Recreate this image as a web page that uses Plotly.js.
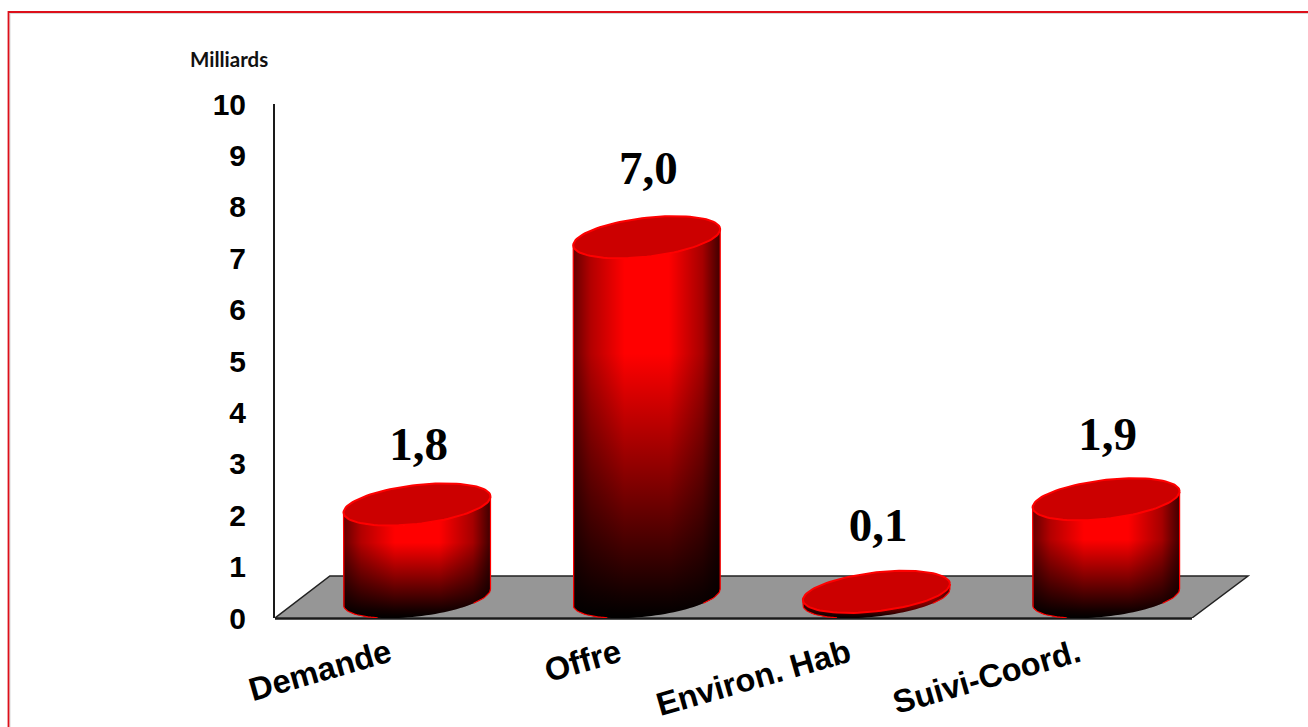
<!DOCTYPE html>
<html><head><meta charset="utf-8">
<script src="https://cdn.plot.ly/plotly-3.0.1.min.js"></script>
<style>html,body{margin:0;padding:0;background:#fff;overflow:hidden}</style>
</head><body><div id="chart" style="width:1308px;height:727px"></div>
<script>
const categories = ["Demande", "Offre", "Environ. Hab", "Suivi-Coord."];
const values = [1.8, 7.0, 0.1, 1.9];
const yTicks = [0,1,2,3,4,5,6,7,8,9,10];
const unitLabel = "Milliards";

const W = 1308, H = 727;
const M = {l:275, r:8, t:104, b:109};
const plotW = W - M.l - M.r, plotH = H - M.t - M.b;
const pxX = 229.7, pxY = plotH / 10;
const xMin = (275 - 417) / pxX, xMax = xMin + plotW / pxX;
const depth = 42 / pxY, baseY = 21 / pxY;
const A = 73.5 / pxX, S = 8 / pxY, B = 19.5 / pxY;
const labelLift = [56, 65, 63, 61];

function pt(i, v, t) {
  return [i + A * Math.cos(t), baseY + v + S * Math.cos(t) + B * Math.sin(t)];
}
function arc(i, v, t0, t1, n) {
  const xs = [], ys = [];
  for (let k = 0; k <= n; k++) {
    const p = pt(i, v, t0 + (t1 - t0) * k / n);
    xs.push(p[0]); ys.push(p[1]);
  }
  return [xs, ys];
}
const traces = [];
const noHover = {hoverinfo:'skip', showlegend:false, type:'scatter'};
values.forEach((v, i) => {
  const topFront = arc(i, v, 0, -Math.PI, 50);
  const baseFront = arc(i, 0, -Math.PI, 0, 50);
  const bx = topFront[0].concat(baseFront[0]), by = topFront[1].concat(baseFront[1]);
  const hot = v > 4 ? 0.68 : 0.62;
  traces.push(Object.assign({}, noHover, {x:bx, y:by, mode:'none', fill:'toself',
    fillgradient:{type:'vertical', colorscale:[[0,'#000000'],[0.06,'#140000'],[hot,'#ff0000'],[1,'#ff0000']]}}));
  traces.push(Object.assign({}, noHover, {x:bx, y:by, mode:'none', fill:'toself',
    fillgradient:{type:'horizontal', colorscale:[[0,'rgba(0,0,0,0.6)'],[0.12,'rgba(0,0,0,0.3)'],[0.35,'rgba(0,0,0,0)'],[0.65,'rgba(0,0,0,0)'],[0.88,'rgba(0,0,0,0.35)'],[1,'rgba(0,0,0,0.75)']]}}));
  const left = arc(i, 0, -Math.PI, -Math.PI*0.68, 18);
  const right = arc(i, 0, -Math.PI*0.22, 0, 14);
  const leftTop = pt(i, v, Math.PI), rightTop = pt(i, v, 0);
  traces.push(Object.assign({}, noHover, {mode:'lines', line:{color:'#ff0000', width:1.2},
    x:[leftTop[0]].concat(left[0]), y:[leftTop[1]].concat(left[1])}));
  traces.push(Object.assign({}, noHover, {mode:'lines', line:{color:'#ff0000', width:1.2},
    x:right[0].concat([rightTop[0]]), y:right[1].concat([rightTop[1]])}));
  const top = arc(i, v, 0, 2*Math.PI, 100);
  traces.push(Object.assign({}, noHover, {x:top[0], y:top[1], mode:'lines', fill:'toself',
    fillcolor:'#cc0000', line:{color:'#ff0000', width:2}}));
});
traces.push({type:'scatter', mode:'text', showlegend:false, hoverinfo:'skip', cliponaxis:false,
  x:categories.map((c,i)=>i+0.007),
  y:values.map((v,i)=>v+baseY+labelLift[i]/pxY),
  text:values.map(v=>v.toFixed(1).replace('.',',')),
  textposition:'middle center',
  textfont:{family:'"Liberation Serif", serif', size:47, color:'#000', weight:'bold'}});

const toPaperX = px => (px - M.l) / plotW;
const toPaperY = py => 1 - (py - M.t) / plotH;
const floorX0 = xMin, floorX1 = (1192 - 417) / pxX, floorShift = 56 / pxX;
const layout = {
  width:W, height:H, margin:M, paper_bgcolor:'#fff', plot_bgcolor:'rgba(0,0,0,0)', showlegend:false,
  xaxis:{range:[xMin,xMax], tickmode:'array', tickvals:categories.map((c,i)=>i), ticktext:categories,
    tickangle:-16, ticklabelshift:-28, ticklabelstandoff:10, showline:false, zeroline:false, showgrid:false, ticks:'',
    tickfont:{family:'"Liberation Sans", Arial, sans-serif', size:32.5, color:'#000', weight:'bold'}, fixedrange:true},
  yaxis:{range:[0,10], tickmode:'array', tickvals:yTicks, showline:true, linecolor:'#1a1a1a', linewidth:2,
    zeroline:false, showgrid:false, ticks:'', ticklabelstandoff:21,
    tickfont:{family:'"Liberation Sans", Arial, sans-serif', size:30, color:'#000', weight:'bold'}, fixedrange:true},
  shapes:[
    {type:'path', layer:'below', xref:'x', yref:'y',
     path:`M ${floorX0} 0 L ${floorX0+floorShift*0.98} ${depth} L ${floorX1+floorShift} ${depth} L ${floorX1} 0 Z`,
     fillcolor:'#969696', line:{color:'#222', width:1.5}},
    {type:'line', layer:'below', xref:'paper', yref:'paper', x0:toPaperX(275), x1:toPaperX(1192), y0:toPaperY(618.5), y1:toPaperY(618.5), line:{color:'#1a1a1a', width:2.5}},
    {type:'path', xref:'paper', yref:'paper', layer:'above',
     path:`M ${toPaperX(10)} ${toPaperY(727)} L ${toPaperX(10)} ${toPaperY(13.5)} L ${toPaperX(1308)} ${toPaperY(13.5)}`,
     line:{color:'#d8d8d8', width:1}},
    {type:'path', xref:'paper', yref:'paper', layer:'above',
     path:`M ${toPaperX(8.5)} ${toPaperY(727)} L ${toPaperX(8.5)} ${toPaperY(12)} L ${toPaperX(1308)} ${toPaperY(12)}`,
     line:{color:'#dd0f1a', width:1.8}}
  ],
  annotations:[{xref:'paper', yref:'paper', x:toPaperX(229), y:toPaperY(59), text:unitLabel, showarrow:false,
    xanchor:'center', yanchor:'middle',
    font:{family:'Lato, sans-serif', size:20.5, color:'#111', weight:'bold'}}]
};
Plotly.newPlot('chart', traces, layout, {displayModeBar:false, staticPlot:true});
</script></body></html>
